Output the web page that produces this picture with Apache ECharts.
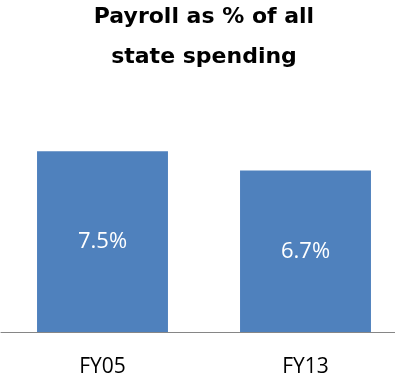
<!DOCTYPE html>
<html><head><meta charset="utf-8">
<script src="https://cdn.jsdelivr.net/npm/echarts@6/dist/echarts.min.js"></script>
<style>html,body{margin:0;padding:0;background:#fff}#c{width:395px;height:382px}</style>
</head><body><div id="c"></div>
<script>
const titleText = "Payroll as % of all\nstate spending";
const categories = ["FY05", "FY13"];
const values = [7.5, 6.7];
const yMax = 10;

const chart = echarts.init(document.getElementById('c'), null, {renderer: 'canvas'});
chart.setOption({
  animation: false,
  title: {
    text: titleText,
    left: 199, top: -8, textAlign: 'center',
    textStyle: {fontFamily: 'DejaVu Sans', fontWeight: 'bold', fontSize: 22, lineHeight: 40, color: '#000'}
  },
  grid: {left: 1, top: 91, right: -12, bottom: 50, containLabel: false, outerBoundsMode: 'none'},
  xAxis: {
    type: 'category', data: categories,
    axisLine: {lineStyle: {color: '#868686', width: 1}},
    axisTick: {show: false},
    axisLabel: {fontFamily: 'Open Sans', fontSize: 21, lineHeight: 22, color: '#000', margin: 24}
  },
  yAxis: {type: 'value', min: 0, max: yMax, show: false, splitLine: {show: false}},
  series: [{
    type: 'bar', data: values, barWidth: '64.5%',
    itemStyle: {color: '#4F81BD'},
    label: {show: true, position: 'inside', formatter: p => p.value.toFixed(1) + '%',
      fontFamily: 'Open Sans', fontSize: 22, color: '#fff'}
  }]
});
</script></body></html>
